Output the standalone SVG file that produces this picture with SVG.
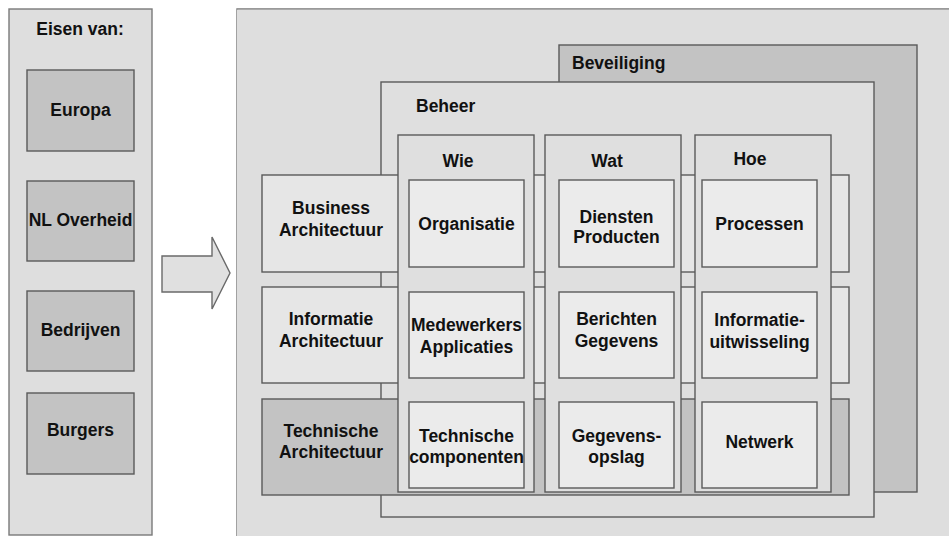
<svg xmlns="http://www.w3.org/2000/svg" width="949" height="536" viewBox="0 0 949 536">
<style>
rect{stroke:#5a5a5a;stroke-width:1.4}
.panel{fill:#dedede;stroke:#7a7a7a}
.dark{fill:#c3c3c3}
.mid{fill:#dfdfdf}
.light{fill:#e6e6e6}
.cell{fill:#ebebeb}
text{font-family:"Liberation Sans",Arial,sans-serif;font-weight:bold;font-size:17.5px;fill:#111;text-anchor:middle}
.l{text-anchor:start}
</style>
<rect width="949" height="536" style="fill:#fff;stroke:none"/>
<g id="eisen">
<rect class="panel" x="9" y="9" width="143" height="526"/>
<text x="80" y="35">Eisen van:</text>
</g>
<g id="europa"><rect class="dark" x="27" y="70" width="107" height="81"/><text x="80.5" y="116">Europa</text></g>
<g id="nl-overheid"><rect class="dark" x="27" y="181" width="107" height="80"/><text x="80.5" y="226">NL Overheid</text></g>
<g id="bedrijven"><rect class="dark" x="27" y="291" width="107" height="80"/><text x="80.5" y="336">Bedrijven</text></g>
<g id="burgers"><rect class="dark" x="27" y="393" width="107" height="81"/><text x="80.5" y="436">Burgers</text></g>
<g id="connectors">
<path d="M162,256 H212 V237 L230,273 L212,309 V292 H162 Z" fill="#e0e0e0" stroke="#6a6a6a" stroke-width="1.4"/>
</g>
<g id="main">
<path d="M237,537 V9 H952" fill="#dedede" stroke="#7a7a7a" stroke-width="1.4"/>
<rect x="237" y="9.7" width="715" height="530" style="fill:#dedede;stroke:none"/>
</g>
<g id="beveiliging">
<rect class="dark" x="559" y="45" width="358" height="447"/>
<text class="l" x="572" y="69">Beveiliging</text>
</g>
<g id="beheer">
<rect class="mid" x="381" y="82" width="493" height="435"/>
<text class="l" x="416" y="112">Beheer</text>
</g>
<g id="business-architectuur">
<rect class="light" x="262" y="175" width="587" height="97"/>
<text x="331" y="214">Business</text><text x="331" y="236">Architectuur</text>
</g>
<g id="informatie-architectuur">
<rect class="light" x="262" y="287" width="587" height="96"/>
<text x="331" y="325">Informatie</text><text x="331" y="347">Architectuur</text>
</g>
<g id="technische-architectuur">
<rect class="dark" x="262" y="399" width="587" height="96"/>
<text x="331" y="437">Technische</text><text x="331" y="458">Architectuur</text>
</g>
<g id="wie">
<rect class="mid" x="398" y="135" width="136" height="357"/>
<text x="458" y="167">Wie</text>
</g>
<g id="wat">
<rect class="mid" x="545" y="135" width="136" height="357"/>
<text x="607" y="167">Wat</text>
</g>
<g id="hoe">
<rect class="mid" x="695" y="135" width="136" height="357"/>
<text x="750" y="165">Hoe</text>
</g>
<g id="organisatie"><rect class="cell" x="409" y="180" width="115" height="87"/><text x="466.5" y="230">Organisatie</text></g>
<g id="diensten-producten"><rect class="cell" x="559" y="180" width="115" height="87"/><text x="616.5" y="223">Diensten</text><text x="616.5" y="243">Producten</text></g>
<g id="processen"><rect class="cell" x="702" y="180" width="115" height="87"/><text x="759.5" y="230">Processen</text></g>
<g id="medewerkers-applicaties"><rect class="cell" x="409" y="292" width="115" height="86"/><text x="466.5" y="331">Medewerkers</text><text x="466.5" y="353">Applicaties</text></g>
<g id="berichten-gegevens"><rect class="cell" x="559" y="292" width="115" height="86"/><text x="616.5" y="325">Berichten</text><text x="616.5" y="347">Gegevens</text></g>
<g id="informatie-uitwisseling"><rect class="cell" x="702" y="292" width="115" height="86"/><text x="759.5" y="326">Informatie-</text><text x="759.5" y="348">uitwisseling</text></g>
<g id="technische-componenten"><rect class="cell" x="409" y="402" width="115" height="86"/><text x="466.5" y="442">Technische</text><text x="466.5" y="463">componenten</text></g>
<g id="gegevensopslag"><rect class="cell" x="559" y="402" width="115" height="86"/><text x="616.5" y="442">Gegevens-</text><text x="616.5" y="463">opslag</text></g>
<g id="netwerk"><rect class="cell" x="702" y="402" width="115" height="86"/><text x="759.5" y="448">Netwerk</text></g>
</svg>
